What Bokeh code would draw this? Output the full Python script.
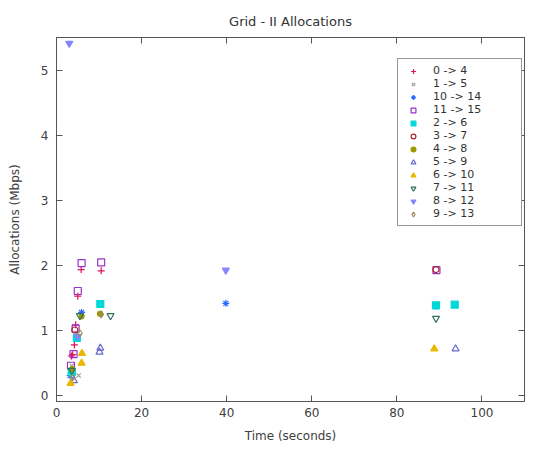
from bokeh.plotting import figure
from bokeh.models import Range1d, LinearAxis, Legend, LegendItem, FixedTicker, Title
from bokeh.embed import file_html
from bokeh.resources import INLINE

labels = ["0 -> 4", "1 -> 5", "10 -> 14", "11 -> 15", "2 -> 6", "3 -> 7",
          "4 -> 8", "5 -> 9", "6 -> 10", "7 -> 11", "8 -> 12", "9 -> 13"]

t_0_4 = [3.5, 3.8, 4.2, 4.5, 5.0, 5.8, 10.5]
a_0_4 = [0.60, 0.62, 0.77, 1.08, 1.52, 1.93, 1.91]
t_1_5 = [3.6, 4.8, 5.2, 10.3]
a_1_5 = [0.45, 0.95, 0.30, 1.25]
t_10_14 = [3.2, 5.9, 39.8, 89.3]
a_10_14 = [0.30, 1.27, 1.41, 1.37]
t_11_15 = [3.4, 4.0, 4.5, 5.0, 5.9, 10.5, 89.3]
a_11_15 = [0.45, 0.63, 1.02, 1.60, 2.03, 2.04, 1.92]
t_2_6 = [3.6, 4.8, 10.3, 89.2, 93.6]
a_2_6 = [0.35, 0.88, 1.40, 1.38, 1.39]
t_3_7 = [4.3, 89.2]
a_3_7 = [1.00, 1.93]
t_4_8 = [3.7, 5.9, 10.2]
a_4_8 = [0.40, 1.21, 1.25]
t_5_9 = [4.1, 10.1, 10.3, 93.8]
a_5_9 = [0.22, 0.66, 0.72, 0.71]
t_6_10 = [3.3, 5.9, 6.0, 88.8]
a_6_10 = [0.18, 0.49, 0.64, 0.71]
t_7_11 = [3.6, 5.5, 12.7, 89.2]
a_7_11 = [0.38, 1.22, 1.22, 1.18]
t_8_12 = [3.0, 5.0, 39.8]
a_8_12 = [5.41, 0.90, 1.92]
t_9_13 = [3.8, 5.5, 10.5]
a_9_13 = [0.27, 0.95, 1.24]

xs = [t_0_4, t_1_5, t_10_14, t_11_15, t_2_6, t_3_7, t_4_8, t_5_9, t_6_10, t_7_11, t_8_12, t_9_13]
ys = [a_0_4, a_1_5, a_10_14, a_11_15, a_2_6, a_3_7, a_4_8, a_5_9, a_6_10, a_7_11, a_8_12, a_9_13]

x_ticks = [0, 20, 40, 60, 80, 100]
y_ticks = [0, 1, 2, 3, 4, 5]

colors = ["#e0105a", "#9a9a9a", "#2a6cff", "#9933cc", "#00d8d8", "#b02828",
          "#9a9a00", "#6a6acc", "#e8b800", "#2f6f5f", "#8585ff", "#a08a60"]
markers = ["cross", "x", "asterisk", "square", "square", "circle",
           "circle", "triangle", "triangle", "inverted_triangle", "inverted_triangle", "diamond"]
filled = [False, False, False, False, True, False, True, False, True, False, True, False]
sizes = [7, 6, 7, 7, 7, 6, 5, 7, 7, 7, 7, 7]

FONT = "DejaVu Sans"
GRAY = "#404040"
AX = "#555555"

p = figure(width=535, height=445, output_backend="svg", toolbar_location=None,
           x_range=Range1d(0, 110), y_range=Range1d(-0.1, 5.5),
           min_border_left=56, min_border_right=11, min_border_top=37, min_border_bottom=41)
p.title = Title(text="Grid - II Allocations", align="center", text_font=FONT,
                text_font_size="13px", text_font_style="normal", text_color="#333333",
                offset=25, standoff=17)
p.grid.visible = False
p.outline_line_color = AX
p.background_fill_color = "white"

for ax in [p.xaxis[0], p.yaxis[0]]:
    ax.major_tick_in = 6
    ax.major_tick_out = 0
    ax.minor_tick_in = 0
    ax.minor_tick_out = 0
    ax.axis_line_color = AX
    ax.major_tick_line_color = AX
    ax.major_label_text_font = FONT
    ax.major_label_text_font_size = "12px"
    ax.major_label_text_color = GRAY
    ax.axis_label_text_font = FONT
    ax.axis_label_text_font_size = "12px"
    ax.axis_label_text_font_style = "normal"
    ax.axis_label_text_color = GRAY
p.xaxis.ticker = FixedTicker(ticks=x_ticks)
p.yaxis.ticker = FixedTicker(ticks=y_ticks)
p.xaxis.axis_label = "Time (seconds)"
p.yaxis.axis_label = "Allocations (Mbps)"
p.xaxis.major_label_standoff = 6
p.yaxis.major_label_standoff = 8
p.xaxis.axis_label_standoff = 9
p.yaxis.axis_label_standoff = 16

top = LinearAxis(ticker=FixedTicker(ticks=x_ticks), major_tick_in=6,
                 major_tick_out=0, minor_tick_in=0, minor_tick_out=0,
                 major_label_overrides={t: "" for t in x_ticks},
                 axis_line_color=AX, major_tick_line_color=AX, major_label_standoff=0)
right = LinearAxis(ticker=FixedTicker(ticks=y_ticks), major_tick_in=6,
                   major_tick_out=0, minor_tick_in=0, minor_tick_out=0,
                   major_label_overrides={t: "" for t in y_ticks},
                   axis_line_color=AX, major_tick_line_color=AX, major_label_standoff=0)
p.add_layout(top, "above")
p.add_layout(right, "right")

items = []
for lab, x, y, c, m, f, s in zip(labels, xs, ys, colors, markers, filled, sizes):
    r = p.scatter(x, y, marker=m, size=s, line_color=c, line_width=1.2,
                  fill_color=c if f else None)
    items.append(LegendItem(label=lab, renderers=[r]))

legend = Legend(items=items, location=(341, 175), label_text_font=FONT,
                label_text_font_size="11px", label_text_color="#333333",
                glyph_height=12, glyph_width=20, label_height=12, label_width=83,
                spacing=0, padding=5, margin=0, border_line_color="#333333",
                label_standoff=10, background_fill_alpha=1)
p.add_layout(legend)

open("out.html", "w").write(file_html(p, INLINE))
